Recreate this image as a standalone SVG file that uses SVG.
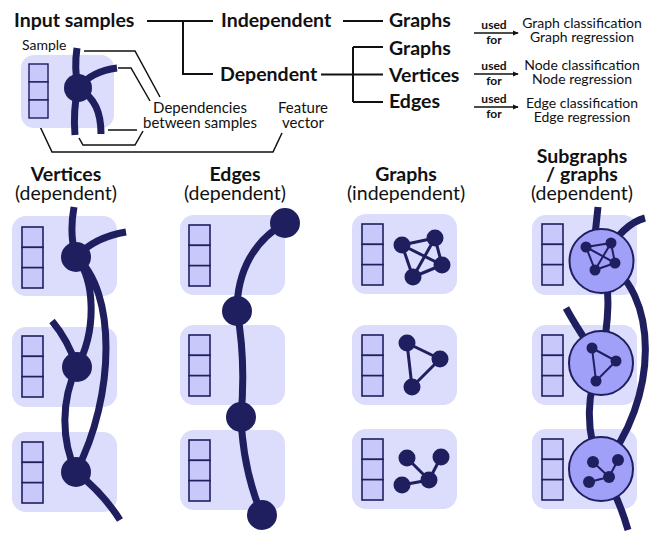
<svg xmlns="http://www.w3.org/2000/svg" xmlns:xlink="http://www.w3.org/1999/xlink" width="668" height="548" viewBox="0 0 668 548">
<style>
.h{font-family:Lato,"Liberation Sans",sans-serif;font-weight:bold;font-size:19.5px;fill:#111}
.r{font-family:Lato,"Liberation Sans",sans-serif;font-size:19.5px;fill:#111}
.s{font-family:Lato,"Liberation Sans",sans-serif;font-size:14px;fill:#111}
.a{font-family:Lato,"Liberation Sans",sans-serif;font-size:15px;fill:#111}
.u{font-family:Lato,"Liberation Sans",sans-serif;font-weight:bold;font-size:12px;fill:#111}
.m{text-anchor:middle}
.ln{fill:none;stroke:#111;stroke-width:2}
.an{fill:none;stroke:#111;stroke-width:1.5}
.box{fill:#dcdcfc}
.cell{fill:#c8c8fa;stroke:#20205f;stroke-width:1.6}
.dep{fill:none;stroke:#1f1f60;stroke-width:7}
.nd{fill:#1f1f60}
.ge{stroke:#1f1f60;stroke-width:3}
.se{stroke:#1f1f60;stroke-width:2}
.sub{fill:#a0a0f8;stroke:#1f1f60;stroke-width:2}
</style>
<defs>
<g id="fv">
<rect class="cell" x="0" y="0" width="21" height="20.33"/>
<rect class="cell" x="0" y="20.33" width="21" height="20.33"/>
<rect class="cell" x="0" y="40.67" width="21" height="20.33"/>
</g>
<marker id="ar" viewBox="0 0 8 8" refX="7" refY="4" markerWidth="6" markerHeight="6" orient="auto" markerUnits="userSpaceOnUse">
<path d="M0,0.5 L8,4 L0,7.5 Z" fill="#111"/>
</marker>
</defs>

<!-- tree connectors -->
<g id="connectors">
<path class="ln" d="M147,21 H213 M183,21 V74 H213"/>
<path class="ln" d="M343,21 H383"/>
<path class="ln" d="M321,74.5 H383 M353,47 V102 M353,47 H383 M353,102 H383"/>
<line class="an" x1="474" y1="33" x2="518" y2="33" marker-end="url(#ar)"/>
<line class="an" x1="474" y1="74" x2="518" y2="74" marker-end="url(#ar)"/>
<line class="an" x1="474" y1="107" x2="518" y2="107" marker-end="url(#ar)"/>
<path class="an" d="M84,51 H135 L160,97"/>
<path class="an" d="M118,68 H131 L150,101"/>
<path class="an" d="M108,130 H137"/>
<path class="an" d="M79,138 L83,145 H135 L143,131"/>
<path class="an" d="M36,118 L52,152 H273 L282,133"/>
</g>

<g id="input-samples"><text class="h" x="14" y="27">Input samples</text></g>
<g id="independent"><text class="h" x="221" y="27">Independent</text></g>
<g id="dependent"><text class="h" x="220" y="81">Dependent</text></g>
<g id="graphs-indep"><text class="h" x="389" y="27">Graphs</text></g>
<g id="graphs-dep"><text class="h" x="389" y="55">Graphs</text></g>
<g id="vertices-dep"><text class="h" x="389" y="82">Vertices</text></g>
<g id="edges-dep"><text class="h" x="389" y="108">Edges</text></g>

<g id="use-graph">
<text class="u m" x="494" y="29">used</text><text class="u m" x="494" y="44">for</text>
<text class="s m" x="582" y="28">Graph classification</text><text class="s m" x="582" y="42">Graph regression</text>
</g>
<g id="use-node">
<text class="u m" x="494" y="70">used</text><text class="u m" x="494" y="85">for</text>
<text class="s m" x="582" y="70">Node classification</text><text class="s m" x="582" y="84">Node regression</text>
</g>
<g id="use-edge">
<text class="u m" x="494" y="103">used</text><text class="u m" x="494" y="118">for</text>
<text class="s m" x="582" y="108">Edge classification</text><text class="s m" x="582" y="122">Edge regression</text>
</g>

<g id="sample-legend">
<text class="s" x="22" y="50">Sample</text>
<rect class="box" x="21" y="55" width="93" height="73" rx="13"/>
<use xlink:href="#fv" transform="translate(29,64) scale(0.905,0.885)"/>
<path class="dep" d="M77,48 Q74,68 78,88 M78,88 Q92,71 117,68 M78,88 Q73,110 75,135 M78,88 C95,98 101,112 101,134" stroke-width="6.5"/>
<circle class="nd" cx="78" cy="88" r="14"/>
<text class="a m" x="200" y="113">Dependencies</text>
<text class="a m" x="200" y="128">between samples</text>
<text class="a m" x="303" y="113">Feature</text>
<text class="a m" x="303" y="128">vector</text>
</g>

<!-- Vertices column -->
<g id="col-vertices">
<text class="h m" x="66" y="181">Vertices</text>
<text class="r m" x="66" y="200">(dependent)</text>
<rect class="box" x="12" y="216" width="105" height="80" rx="14"/>
<rect class="box" x="12" y="327" width="105" height="80" rx="14"/>
<rect class="box" x="12" y="432" width="105" height="80" rx="14"/>
<use xlink:href="#fv" x="22" y="227"/>
<use xlink:href="#fv" x="22" y="336"/>
<use xlink:href="#fv" x="22" y="442"/>
<path class="dep" d="M74,207 Q69,235 76,257 M76,257 Q95,237 126,232 M76,257 C95,280 97,330 77,367 M76,257 C116,290 116,395 76,472 M52,321 Q68,340 77,367 M77,367 C61,400 61,440 76,472 M76,472 Q103,493 120,520"/>
<circle class="nd" cx="76" cy="257" r="15"/>
<circle class="nd" cx="77" cy="367" r="15"/>
<circle class="nd" cx="76" cy="472" r="15"/>
</g>

<!-- Edges column -->
<g id="col-edges">
<text class="h m" x="235" y="181">Edges</text>
<text class="r m" x="235" y="200">(dependent)</text>
<rect class="box" x="180" y="215" width="105" height="80" rx="14"/>
<rect class="box" x="180" y="325" width="105" height="80" rx="14"/>
<rect class="box" x="180" y="430" width="105" height="80" rx="14"/>
<use xlink:href="#fv" x="189" y="225"/>
<use xlink:href="#fv" x="189" y="335"/>
<use xlink:href="#fv" x="189" y="440"/>
<path class="dep" d="M285,223 C255,240 237,270 237,311 M237,311 Q246,360 241,417 M241,417 Q243,470 262,515"/>
<circle class="nd" cx="285" cy="223" r="15"/>
<circle class="nd" cx="237" cy="311" r="15"/>
<circle class="nd" cx="241" cy="417" r="15"/>
<circle class="nd" cx="262" cy="515" r="15"/>
</g>

<!-- Graphs column -->
<g id="col-graphs">
<text class="h m" x="406" y="181">Graphs</text>
<text class="r m" x="406" y="200">(independent)</text>
<rect class="box" x="352" y="214" width="105" height="80" rx="14"/>
<rect class="box" x="352" y="325" width="105" height="80" rx="14"/>
<rect class="box" x="352" y="429" width="105" height="80" rx="14"/>
<use xlink:href="#fv" x="362" y="224"/>
<use xlink:href="#fv" x="362" y="335"/>
<use xlink:href="#fv" x="362" y="439"/>
<g class="ge">
<line x1="402" y1="245" x2="435" y2="238"/><line x1="435" y1="238" x2="442" y2="265"/>
<line x1="442" y1="265" x2="413" y2="277"/><line x1="413" y1="277" x2="402" y2="245"/>
<line x1="402" y1="245" x2="442" y2="265"/><line x1="435" y1="238" x2="413" y2="277"/>
<line x1="407" y1="343" x2="440" y2="359"/><line x1="440" y1="359" x2="412" y2="387"/><line x1="412" y1="387" x2="407" y2="343"/>
<line x1="407" y1="458" x2="429" y2="480"/><line x1="441" y1="457" x2="429" y2="480"/><line x1="429" y1="480" x2="402" y2="485"/>
</g>
<g class="nd">
<circle cx="402" cy="245" r="8.5"/><circle cx="435" cy="238" r="8.5"/><circle cx="442" cy="265" r="8.5"/><circle cx="413" cy="277" r="8.5"/>
<circle cx="407" cy="343" r="8.5"/><circle cx="440" cy="359" r="8.5"/><circle cx="412" cy="387" r="8.5"/>
<circle cx="407" cy="458" r="8.5"/><circle cx="441" cy="457" r="8.5"/><circle cx="429" cy="480" r="8.5"/><circle cx="402" cy="485" r="8.5"/>
</g>
</g>

<!-- Subgraphs column -->
<g id="col-subgraphs">
<text class="h m" x="582" y="163">Subgraphs</text>
<text class="h m" x="582" y="181">/ graphs</text>
<text class="r m" x="582" y="200">(dependent)</text>
<rect class="box" x="532" y="215" width="105" height="80" rx="14"/>
<rect class="box" x="532" y="325" width="105" height="80" rx="14"/>
<rect class="box" x="532" y="429" width="105" height="80" rx="14"/>
<use xlink:href="#fv" x="542" y="224"/>
<use xlink:href="#fv" x="542" y="335"/>
<use xlink:href="#fv" x="542" y="439"/>
<path class="dep" d="M598,207 L595,235 M602,260 Q622,224 645,218 M602,260 C611,290 609,320 601,363 M602,260 C660,290 660,400 601,469 M566,308 Q578,330 601,363 M601,363 C587,390 584,430 601,469 M601,469 Q618,495 628,530"/>
<circle class="sub" cx="601.5" cy="261" r="32"/>
<circle class="sub" cx="601" cy="363" r="32"/>
<circle class="sub" cx="601" cy="469" r="32"/>
<g class="se">
<line x1="586" y1="247" x2="611" y2="243"/><line x1="611" y1="243" x2="615" y2="263"/>
<line x1="615" y1="263" x2="595" y2="270"/><line x1="595" y1="270" x2="586" y2="247"/>
<line x1="586" y1="247" x2="615" y2="263"/><line x1="611" y1="243" x2="595" y2="270"/>
<line x1="592" y1="348" x2="616" y2="361"/><line x1="616" y1="361" x2="596" y2="381"/><line x1="596" y1="381" x2="592" y2="348"/>
<line x1="593" y1="462" x2="609" y2="477"/><line x1="618" y1="460" x2="609" y2="477"/><line x1="609" y1="477" x2="589" y2="482"/>
</g>
<g class="nd">
<circle cx="586" cy="247" r="5.5"/><circle cx="611" cy="243" r="5.5"/><circle cx="615" cy="263" r="5.5"/><circle cx="595" cy="270" r="5.5"/>
<circle cx="592" cy="348" r="5.5"/><circle cx="616" cy="361" r="5.5"/><circle cx="596" cy="381" r="5.5"/>
<circle cx="593" cy="462" r="6"/><circle cx="618" cy="460" r="6"/><circle cx="609" cy="477" r="6"/><circle cx="589" cy="482" r="6"/>
</g>
</g>
</svg>
